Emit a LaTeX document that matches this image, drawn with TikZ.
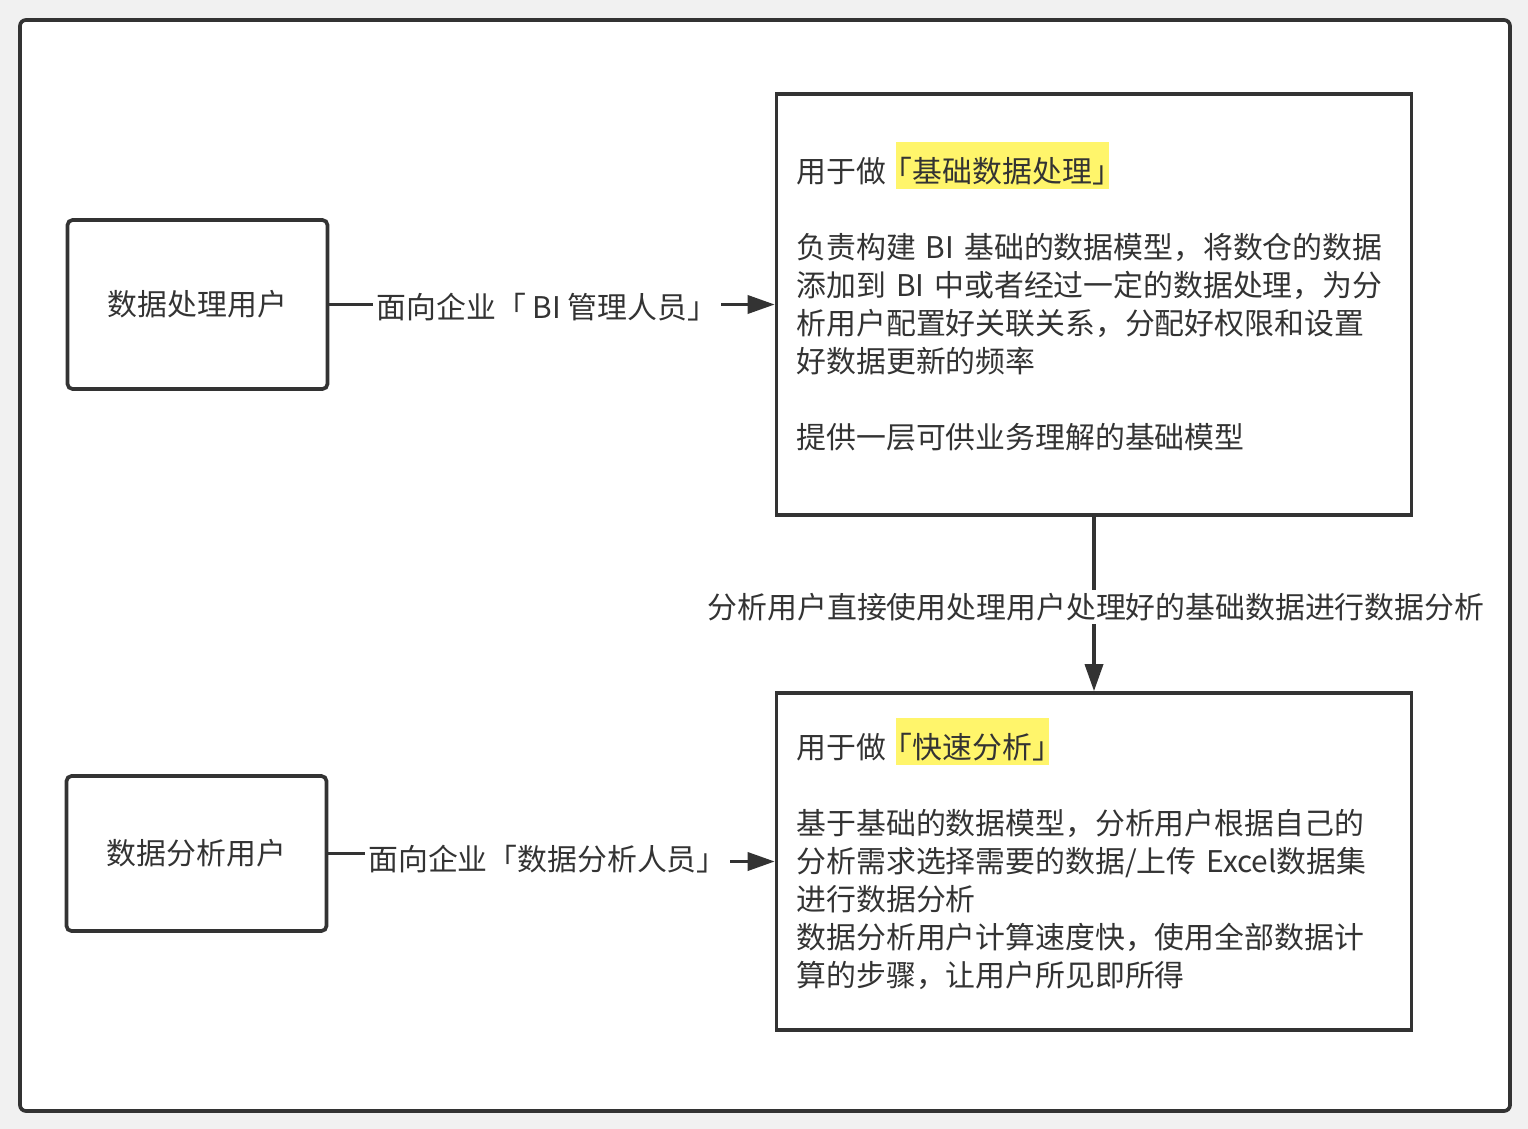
\documentclass[tikz,border=0pt]{standalone}
\usepackage{fontspec}
\setmainfont{Noto Sans CJK SC}
\usetikzlibrary{arrows.meta}
\definecolor{linegray}{HTML}{333333}
\definecolor{bggray}{HTML}{F1F1F1}
\definecolor{hlyellow}{HTML}{FFF56B}
\newcommand{\halfw}[1]{{\addfontfeatures{RawFeature=+halt}#1}}
\newcommand{\hlmark}[1]{\smash{\setlength{\fboxsep}{1pt}\colorbox{hlyellow}{\rule[-2.5pt]{0pt}{24.5pt}\halfw{「}#1\halfw{」}}}}

\begin{document}
\begin{tikzpicture}[x=0.02cm, y=-0.02cm,
  every node/.style={text=linegray, font=\fontsize{17pt}{21.6pt}\selectfont},
  userbox/.style={draw=linegray, line width=2.1pt, rounded corners=0.1cm, minimum width=5.2cm},
  infobox/.style={draw=linegray, line width=2.1pt, text width=11.9cm, inner xsep=0.4cm, align=left, minimum height=#1},
  link/.style={draw=linegray, line width=2pt, -{Triangle[length=0.54cm, width=0.36cm]}},
  lbl/.style={fill=white, inner sep=2pt}]

% background and frame
\fill[bggray] (0,0) rectangle (1528,1129);
\draw[line width=2.1pt, draw=linegray, fill=white, rounded corners=0.12cm] (20,20) rectangle (1510,1111);

\node[userbox, minimum height=3.38cm] (proc) at (197.5,304.5) {数据处理用户};
\node[userbox, minimum height=3.1cm] (ana) at (196.5,853.5) {数据分析用户};

\node[infobox=8.42cm] (basebox) at (1094,304.5) {用于做 \hlmark{基础数据处理}\\[21.6pt]
负责构建~BI~基础的数据模型，将数仓的数据\\
添加到~BI~中或者经过一定的数据处理，为分\\
析用户配置好关联关系，分配好权限和设置\\
好数据更新的频率\\[21.6pt]
提供一层可供业务理解的基础模型};

\node[infobox=6.74cm] (fastbox) at (1094,861.5) {用于做 \hlmark{快速分析}\\[21.6pt]
基于基础的数据模型，分析用户根据自己的\\
分析需求选择需要的数据/上传~Excel数据集\\
进行数据分析\\
数据分析用户计算速度快，使用全部数据计\\
算的步骤，让用户所见即所得};

% connectors
\draw[link] (proc.east) -- (basebox.west |- proc.east);
\node[lbl] (lblproc) at (547,307) {面向企业「~BI~管理人员」};

\draw[link] (ana.east) -- ++(354,0) |- (fastbox.west);
\node[lbl] (lblana) at (547.5,859) {面向企业「数据分析人员」};

\draw[link] (basebox.south) -- (fastbox.north);
\node[lbl] (lbldown) at (1096,607) {分析用户直接使用处理用户处理好的基础数据进行数据分析};
\end{tikzpicture}
\end{document}
